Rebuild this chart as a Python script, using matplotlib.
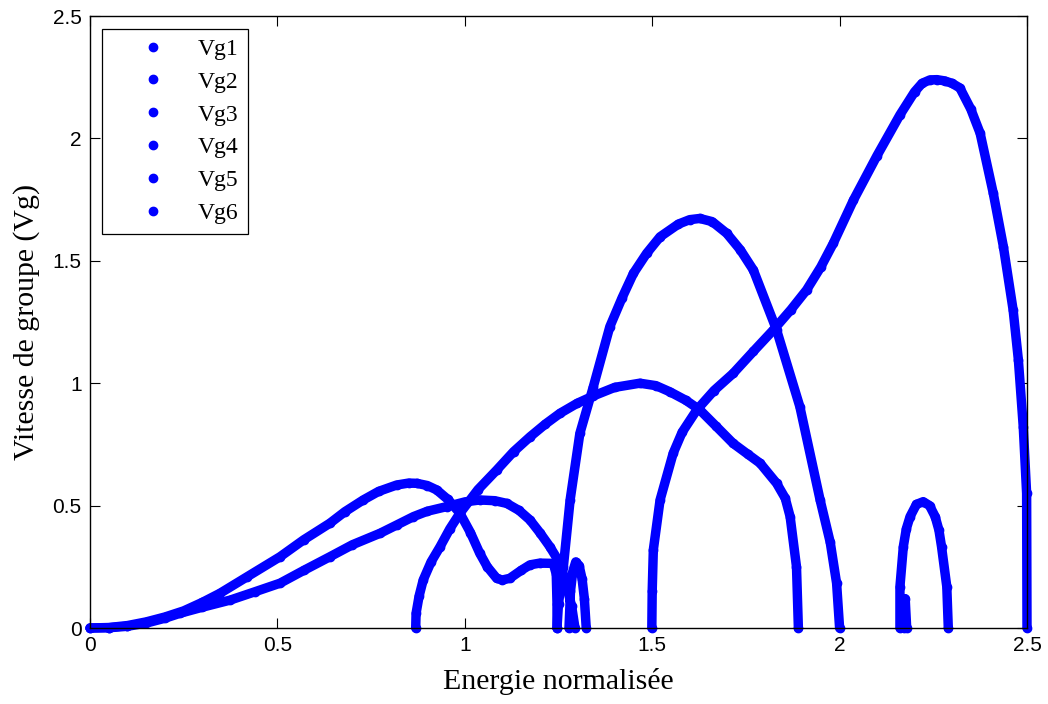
import matplotlib
matplotlib.use("Agg")
import matplotlib.pyplot as plt
import numpy as np

nan = float("nan")

# values
vg1_x = [0, 0.05, 0.1, 0.15, 0.2, 0.25, 0.3, 0.347, 0.42, 0.507, 0.57, 0.64, 0.68, 0.729,
         0.77, 0.818, 0.85, 0.872, 0.9, 0.925, 0.955, 0.987, 1.015, 1.04, 1.06, 1.085, 1.1,
         1.12, 1.15, 1.174, 1.2, 1.236, 1.244, 1.246, 1.246]
vg1_y = [0, 0.002, 0.01, 0.025, 0.045, 0.07, 0.105, 0.142, 0.21, 0.291, 0.36, 0.428, 0.475, 0.523,
         0.558, 0.584, 0.592, 0.591, 0.582, 0.564, 0.525, 0.469, 0.39, 0.305, 0.25, 0.203, 0.196,
         0.203, 0.235, 0.258, 0.265, 0.264, 0.22, 0.1, 0]

vg2_x = [0, 0.05, 0.1, 0.15, 0.2, 0.24, 0.3, 0.374, 0.44, 0.507, 0.57, 0.64, 0.7, 0.774,
         0.82, 0.863, 0.9, 0.952, 1.0, 1.04, 1.08, 1.112, 1.145, 1.174, 1.2, 1.227, 1.254,
         1.27, 1.285, 1.294,
         nan, 1.278, 1.282, 1.288, 1.296, 1.305, 1.313, 1.319, 1.324]
vg2_y = [0, 0.001, 0.007, 0.02, 0.04, 0.06, 0.085, 0.114, 0.148, 0.183, 0.235, 0.291, 0.34, 0.387,
         0.422, 0.455, 0.477, 0.496, 0.515, 0.523, 0.52, 0.509, 0.48, 0.441, 0.39, 0.332, 0.264,
         0.18, 0.09, 0,
         nan, 0, 0.15, 0.23, 0.27, 0.255, 0.2, 0.12, 0]

vg3_x = [0.869, 0.87, 0.878, 0.889, 0.91, 0.934, 0.96, 0.987, 1.035, 1.085, 1.13, 1.174,
         1.215, 1.254, 1.3, 1.343, 1.4, 1.467, 1.51, 1.547, 1.59, 1.627, 1.67, 1.716, 1.755,
         1.788, 1.832, 1.855, 1.868, 1.885, 1.89]
vg3_y = [0, 0.06, 0.13, 0.196, 0.27, 0.332, 0.405, 0.469, 0.565, 0.645, 0.72, 0.781,
         0.833, 0.877, 0.918, 0.948, 0.983, 1.0, 0.99, 0.965, 0.93, 0.891, 0.825, 0.754, 0.71,
         0.673, 0.591, 0.53, 0.455, 0.25, 0]

vg4_x = [1.246, 1.25, 1.263, 1.281, 1.307, 1.343, 1.387, 1.42, 1.45, 1.485, 1.521, 1.57,
         1.6, 1.627, 1.66, 1.699, 1.735, 1.77, 1.832, 1.894, 1.948, 1.975, 1.992, 2.0]
vg4_y = [0, 0.1, 0.25, 0.523, 0.795, 0.986, 1.231, 1.35, 1.449, 1.53, 1.598, 1.65,
         1.668, 1.673, 1.66, 1.612, 1.545, 1.462, 1.217, 0.904, 0.523, 0.35, 0.183, 0]

vg5_x = [1.499, 1.5, 1.503, 1.521, 1.556, 1.58, 1.619, 1.665, 1.716, 1.77, 1.823, 1.87,
         1.912, 1.95, 1.983, 2.037, 2.1, 2.161, 2.2, 2.22, 2.241, 2.26, 2.28, 2.3, 2.321,
         2.35, 2.375, 2.41, 2.437, 2.463, 2.477, 2.49, 2.499, 2.5]
vg5_y = [0, 0.15, 0.319, 0.523, 0.714, 0.8, 0.891, 0.97, 1.04, 1.13, 1.217, 1.3,
         1.381, 1.475, 1.571, 1.748, 1.93, 2.096, 2.19, 2.225, 2.239, 2.24, 2.235, 2.225, 2.206,
         2.12, 2.021, 1.776, 1.558, 1.299, 1.095, 0.822, 0.55, 0]

vg6_x = [2.161, 2.161, 2.17, 2.178, 2.188, 2.205, 2.223, 2.24, 2.255, 2.265, 2.272, 2.286, 2.29,
         nan, 2.172, 2.175, 2.179]
vg6_y = [0, 0.169, 0.332, 0.405, 0.455, 0.505, 0.516, 0.5, 0.455, 0.4, 0.332, 0.169, 0,
         nan, 0, 0.12, 0]

series = [("Vg1", vg1_x, vg1_y), ("Vg2", vg2_x, vg2_y), ("Vg3", vg3_x, vg3_y),
          ("Vg4", vg4_x, vg4_y), ("Vg5", vg5_x, vg5_y), ("Vg6", vg6_x, vg6_y)]
ticks = [0, 0.5, 1, 1.5, 2, 2.5]
tick_labels = ["0", "0.5", "1", "1.5", "2", "2.5"]

serif = ["Liberation Serif", "DejaVu Serif"]
sans = ["Liberation Sans", "DejaVu Sans"]

fig = plt.figure(figsize=(10.48, 7.04), dpi=100)
ax = fig.add_axes([90 / 1048, 76 / 704, 937 / 1048, 612 / 704])

for name, xs, ys in series:
    ax.plot(xs, ys, color="#0000ff", lw=6.8, marker=".", ms=12,
            solid_capstyle="round", solid_joinstyle="round", label=name, clip_on=False)

ax.set_xlim(0, 2.5)
ax.set_ylim(0, 2.5)
ax.set_xticks(ticks)
ax.set_yticks(ticks)
ax.set_xticklabels(tick_labels, family=sans, fontsize=15)
ax.set_yticklabels(tick_labels, family=sans, fontsize=15)
ax.tick_params(direction="in", length=7, width=0.8, top=True, right=True, pad=6)
for sp in ax.spines.values():
    sp.set_linewidth(1.0)

ax.set_xlabel("Energie normalisée", family=serif, fontsize=21.5)
ax.set_ylabel("Vitesse de groupe (Vg)", family=serif, fontsize=21.5)
ax.xaxis.set_label_coords(0.5, -0.066)
ax.yaxis.set_label_coords(-0.053, 0.5)

leg = ax.legend(loc="upper left", bbox_to_anchor=(0.0128, 0.979), numpoints=1,
                prop={"family": serif, "size": 17}, fancybox=False, framealpha=1,
                edgecolor="black", borderpad=0.4, handlelength=3.5, handletextpad=0.15,
                labelspacing=0.48, borderaxespad=0)
leg.get_frame().set_linewidth(0.9)
for ln in leg.get_lines():
    ln.set_linestyle("none")

fig.savefig("out.png", dpi=100)
